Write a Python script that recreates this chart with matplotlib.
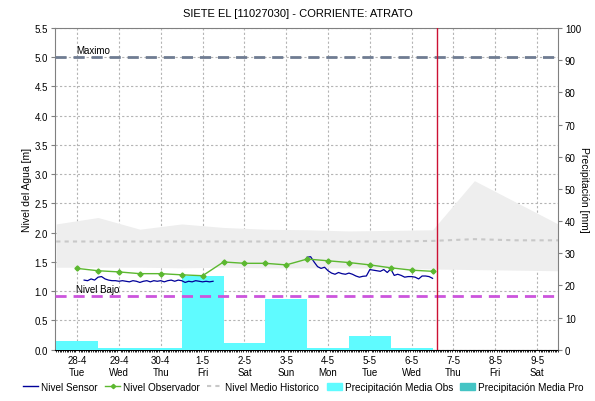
import matplotlib
matplotlib.use("Agg")
import matplotlib.pyplot as plt
from matplotlib.ticker import MultipleLocator, FixedLocator
from matplotlib.lines import Line2D
from matplotlib.patches import Patch
import numpy as np

plt.rcParams['font.family'] = ['Liberation Sans', 'DejaVu Sans']

title = "SIETE EL [11027030] - CORRIENTE: ATRATO"
day_labels = ["28-4\nTue", "29-4\nWed", "30-4\nThu", "1-5\nFri", "2-5\nSat", "3-5\nSun",
              "4-5\nMon", "5-5\nTue", "6-5\nWed", "7-5\nThu", "8-5\nFri", "9-5\nSat"]

# precipitation (mm), one bar per observed day
precip_days = [0, 1, 2, 3, 4, 5, 6, 7, 8]
precip_obs = [2.7, 0.4, 0.4, 22.9, 2.2, 15.7, 0.5, 4.2, 0.5]

# observer level (m), every half day starting at 28-4
obs_x = [0, 0.5, 1, 1.5, 2, 2.5, 3, 3.5, 4, 4.5, 5, 5.5, 6, 6.5, 7, 7.5, 8, 8.5]
obs_y = [1.39, 1.35, 1.33, 1.30, 1.30, 1.28, 1.265, 1.50, 1.477, 1.477, 1.45,
         1.55, 1.52, 1.49, 1.45, 1.40, 1.36, 1.34]

# sensor level (m), two-hourly readings, two segments
sensor1_start = 1 / 6
sensor1_y = [1.19, 1.18, 1.21, 1.19, 1.24, 1.25, 1.21, 1.19, 1.18, 1.18, 1.17, 1.18,
             1.17, 1.16, 1.18, 1.17, 1.15, 1.17, 1.18, 1.16, 1.18, 1.17, 1.18, 1.16,
             1.18, 1.19, 1.17, 1.19, 1.18, 1.15, 1.17, 1.16, 1.18, 1.17, 1.16, 1.17,
             1.16, 1.17]
sensor2_start = 5.5
sensor2_y = [1.58, 1.59, 1.50, 1.42, 1.39, 1.41, 1.35, 1.31, 1.29, 1.32, 1.30, 1.29,
             1.31, 1.29, 1.26, 1.24, 1.255, 1.26, 1.37, 1.36, 1.35, 1.34, 1.37, 1.32,
             1.38, 1.27, 1.29, 1.27, 1.24, 1.25, 1.25, 1.24, 1.21, 1.26, 1.26, 1.25,
             1.22]

# historic band (m)
hist_x = [-0.5, 0.5, 1.5, 2.5, 3.5, 4.5, 5.5, 6.5, 7.5, 8.5, 9.5, 10.5, 11.5]
hist_max = [2.15, 2.26, 2.06, 2.15, 2.09, 2.06, 2.05, 2.03, 2.04, 2.05, 2.89, 2.52, 2.15]
hist_min = [1.41, 1.41, 1.41, 1.40, 1.41, 1.40, 1.40, 1.40, 1.39, 1.38, 1.37, 1.36, 1.35]
hist_mean = [1.85, 1.85, 1.85, 1.85, 1.85, 1.85, 1.85, 1.85, 1.85, 1.86, 1.89, 1.87, 1.87]

nivel_max = 5.0
nivel_bajo = 0.92
now_x = 8.6

fig = plt.figure(figsize=(5.95, 4.02), dpi=100)
pos = [55 / 595, 1 - 350.7 / 402, (558 - 55) / 595, (350.7 - 29) / 402]
ax = fig.add_axes(pos)
ax2 = ax.twinx()
ax3 = fig.add_axes(pos, sharex=ax, sharey=ax)
ax.set_zorder(1)
ax2.set_zorder(2)
ax3.set_zorder(3)
ax2.patch.set_visible(False)
ax3.patch.set_visible(False)
ax3.axis('off')

# background: band + grid
ax.fill_between(hist_x, hist_min, hist_max, color='#eeeeee', lw=0, zorder=1)
ax.plot(hist_x, hist_mean, color='#c8c8c8', ls=(0, (2, 2)), lw=1.5, zorder=2)
ax.set_xlim(-0.53, 11.5)
ax.set_ylim(0, 5.5)
ax.yaxis.set_major_locator(MultipleLocator(0.5))
ax.yaxis.set_major_formatter(matplotlib.ticker.FormatStrFormatter('%.1f'))
ax.xaxis.set_major_locator(FixedLocator(list(range(12))))
ax.set_xticklabels(day_labels)
ax.xaxis.set_minor_locator(MultipleLocator(1 / 24))
ax.grid(True, which='major', color='#b4b4b4', ls=(0, (2, 2)), lw=0.8)
ax.set_axisbelow(True)
ax.tick_params(axis='y', labelsize=7, length=3, pad=2, color='#808080')
ax.tick_params(axis='x', which='major', labelsize=7, length=0, pad=4)
ax.tick_params(axis='x', which='minor', length=1.5, width=0.6, color='black')
ax.set_ylabel("Nivel del Agua [m]", fontsize=7.5, labelpad=2)
for s in ['left', 'top', 'right']:
    ax.spines[s].set_color('#808080')
ax.spines['bottom'].set_color('black')

# precipitation bars
ax2.bar(precip_days, precip_obs, width=1.0, color='#5ffbff', lw=0, zorder=2)
ax2.set_ylim(0, 100)
ax2.yaxis.set_major_locator(MultipleLocator(10))
ax2.tick_params(axis='y', labelsize=7, length=3, pad=2, color='#808080')
ax2.set_ylabel("Precipitación [mm]", fontsize=7.5, rotation=270, labelpad=6)
for s in ax2.spines.values():
    s.set_visible(False)

# lines on top
ax3.axhline(nivel_max, color='#6f7c92', lw=2, ls=(0, (4, 2.5)))
ax3.axhline(nivel_bajo, color='#cc55dd', lw=2, ls=(0, (4, 2.5)))
ax3.text(-0.02, nivel_max + 0.03, "Maximo", fontsize=7, va='bottom', ha='left')
ax3.text(-0.02, nivel_bajo + 0.03, "Nivel Bajo", fontsize=7, va='bottom', ha='left')
ax3.axvline(now_x, color='#cc1133', lw=1)
s1x = sensor1_start + np.arange(len(sensor1_y)) / 12
s2x = sensor2_start + np.arange(len(sensor2_y)) / 12
ax3.plot(s1x, sensor1_y, color='#000099', lw=0.9)
ax3.plot(s2x, sensor2_y, color='#000099', lw=0.9)
ax3.plot(obs_x, obs_y, color='#5cb830', lw=1, marker='D', ms=2.6)

fig.suptitle(title, fontsize=8, y=1 - 14 / 402, va='center')

handles = [
    Line2D([], [], color='#000099', lw=1),
    Line2D([], [], color='#5cb830', lw=1, marker='D', ms=2.2),
    Line2D([], [], color='#c8c8c8', lw=1.5, ls=(0, (2, 2))),
    Patch(color='#5ffbff'),
    Patch(color='#44c4c4'),
]
labels = ["Nivel Sensor", "Nivel Observador", "Nivel Medio Historico",
          "Precipitación Media Obs", "Precipitación Media Pro"]
fig.legend(handles, labels, loc='center', bbox_to_anchor=(0.51, 1 - 388 / 402), ncol=5,
           frameon=False, fontsize=7.2, handlelength=1.5, handletextpad=0.3,
           columnspacing=0.75, handleheight=0.8)

fig.savefig("out.png", dpi=100)
